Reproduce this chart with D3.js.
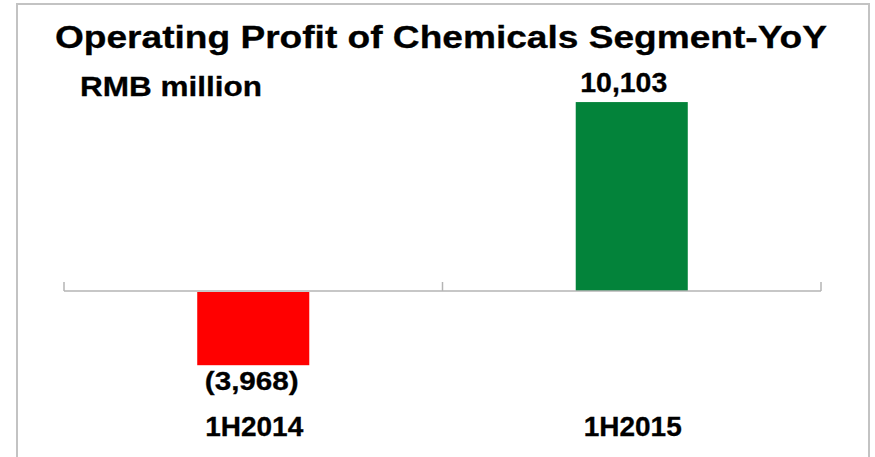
<!DOCTYPE html>
<html>
<head>
<meta charset="utf-8">
<script src="https://cdn.jsdelivr.net/npm/d3@7"></script>
<style>
  html, body { margin: 0; padding: 0; background: #fff; }
  svg { display: block; font-family: "Liberation Sans", Arial, sans-serif; }
  text { stroke: #000; stroke-width: 0.3px; }
</style>
</head>
<body>
<svg id="chart" width="875" height="457"></svg>
<script>
const categories = ["1H2014", "1H2015"];
const values = [-3968, 10103];
const valueLabels = ["(3,968)", "10,103"];
const barColors = ["#ff0000", "#03833a"];
const title = "Operating Profit of Chemicals Segment-YoY";
const unitLabel = "RMB million";

const svg = d3.select("#chart");
const W = 875, H = 457;

// frame
svg.append("rect")
  .attr("x", 17).attr("y", 4)
  .attr("width", 852).attr("height", H + 10)
  .attr("fill", "none").attr("stroke", "#c3c3c3").attr("stroke-width", 2);

const pIn = 0.704;
const x = d3.scaleBand().domain(categories).range([64, 821])
  .paddingInner(pIn).paddingOuter(pIn / 2);
const y = d3.scaleLinear().domain([-8000, 12000]).range([440.6, 66.6]);

// bars
svg.selectAll("rect.bar").data(values).join("rect")
  .attr("class", "bar")
  .attr("x", (d, i) => x(categories[i]))
  .attr("width", x.bandwidth())
  .attr("y", d => d >= 0 ? y(d) : y(0) + 1)
  .attr("height", d => d >= 0 ? y(0) - y(d) : y(d) - y(0) - 1)
  .attr("fill", (d, i) => barColors[i]);

// axis line + tick marks at band boundaries
const y0 = y(0);
svg.append("line")
  .attr("x1", x.range()[0]).attr("x2", x.range()[1])
  .attr("y1", y0).attr("y2", y0)
  .attr("stroke", "#b4b4b4").attr("stroke-width", 1.5);
const step = x.step();
const bounds = [x.range()[0]].concat(categories.map(c => x(c) - step * pIn / 2 + step));
svg.selectAll("line.tick").data(bounds).join("line")
  .attr("class", "tick")
  .attr("x1", d => d).attr("x2", d => d)
  .attr("y1", y0).attr("y2", y0 - 9)
  .attr("stroke", "#b4b4b4").attr("stroke-width", 1.5);

// title
svg.append("text")
  .attr("x", 441).attr("y", 47.5)
  .attr("text-anchor", "middle")
  .attr("font-size", 32).attr("font-weight", "bold").attr("fill", "#000")
  .attr("textLength", 772).attr("lengthAdjust", "spacingAndGlyphs")
  .text(title);

// unit label
svg.append("text")
  .attr("x", 80).attr("y", 96)
  .attr("font-size", 28).attr("font-weight", "bold").attr("fill", "#000")
  .attr("textLength", 182).attr("lengthAdjust", "spacingAndGlyphs")
  .text(unitLabel);

// value labels
const labelLen = [94, 87];
svg.selectAll("text.val").data(values).join("text")
  .attr("class", "val")
  .attr("x", (d, i) => x(categories[i]) + x.bandwidth() / 2 - (d < 0 ? 1.5 : 8))
  .attr("y", d => d >= 0 ? y(d) - 10 : y(d) + 24.5)
  .attr("text-anchor", "middle")
  .attr("font-size", d => d >= 0 ? 27 : 26).attr("font-weight", "bold").attr("fill", "#000")
  .attr("textLength", (d, i) => labelLen[i]).attr("lengthAdjust", "spacingAndGlyphs")
  .text((d, i) => valueLabels[i]);

// category labels
svg.selectAll("text.cat").data(categories).join("text")
  .attr("class", "cat")
  .attr("x", c => x(c) + x.bandwidth() / 2 + 1)
  .attr("y", 435.5)
  .attr("text-anchor", "middle")
  .attr("font-size", 27).attr("font-weight", "bold").attr("fill", "#000")
  .attr("textLength", 98).attr("lengthAdjust", "spacingAndGlyphs")
  .text(c => c);
</script>
</body>
</html>
